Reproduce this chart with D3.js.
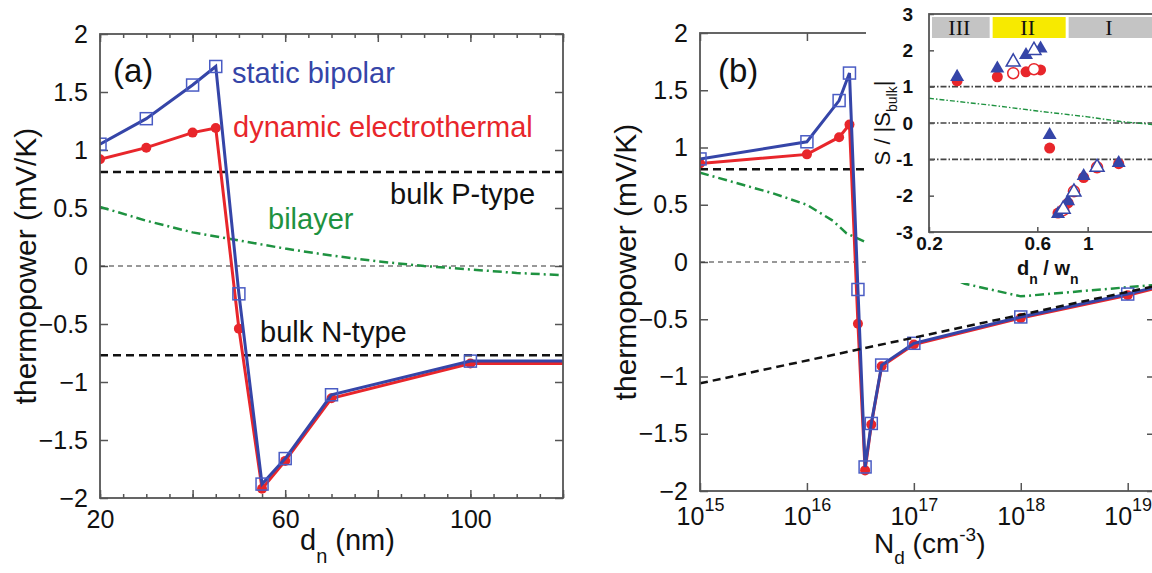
<!DOCTYPE html>
<html>
<head>
<meta charset="utf-8">
<script src="https://cdn.jsdelivr.net/npm/d3@7"></script>
<style>
  body { margin: 0; background: #fff; }
  svg { font-family: "Liberation Sans", Arial, sans-serif; }
  .axis path { display: none; }
  .axis line { stroke: #555; stroke-width: 1.5; }
  .axis text { fill: #111; font-size: 25px; font-family: "Liberation Sans", Arial, sans-serif; }
  .inset text { font-size: 20px; font-weight: bold; }
</style>
</head>
<body>
<div id="chart"></div>
<script>
// ---- panel (a): thermopower vs d_n ----
const dnA = [20, 30, 40, 45, 50, 55, 60, 70, 100];
const staticA = [1.05, 1.27, 1.56, 1.72, -0.24, -1.88, -1.66, -1.11, -0.82];
const dynamicA = [0.92, 1.02, 1.15, 1.19, -0.54, -1.92, -1.68, -1.14, -0.84];
const bilayerDnA = [20, 30, 40, 50, 60, 70, 80, 90, 100, 110, 120];
const bilayerA = [0.51, 0.39, 0.29, 0.22, 0.15, 0.09, 0.04, 0.0, -0.03, -0.06, -0.08];
const bulkPA = 0.81;
const bulkNA = -0.77;

// ---- panel (b): thermopower vs N_d ----
const ndB = [1e15, 1e16, 2e16, 2.5e16, 3e16, 3.5e16, 4e16, 5e16, 1e17, 1e18, 1e19];
const staticB = [0.9, 1.05, 1.41, 1.65, -0.24, -1.79, -1.41, -0.9, -0.71, -0.48, -0.28];
const dynamicB = [0.86, 0.94, 1.09, 1.2, -0.54, -1.82, -1.42, -0.91, -0.72, -0.49, -0.29];
const ndEdgeB = 1.8e19;           // line runs on to the frame edge
const staticEdgeB = -0.22;
const dynamicEdgeB = -0.23;
const bilayerNdB = [1e15, 4.8e15, 1e16, 1.75e16, 2.35e16, 3.6e16, 3e17, 1e18, 1e19, 1.8e19];
const bilayerB = [0.78, 0.6, 0.5, 0.36, 0.25, 0.17, -0.19, -0.3, -0.22, -0.2];
const bulkPB = 0.81;
const bulkNNdB = [1e15, 1.8e19];
const bulkNB = [-1.06, -0.21];
const decadesB = [1e15, 1e16, 1e17, 1e18, 1e19];

// ---- inset: S/|S_bulk| vs d_n/w_n ----
const insetFilledX = [0.266, 0.40, 0.535, 0.62, 0.68, 0.74, 0.82, 0.96, 1.37];
const insetFilledStatic = [1.27, 1.5, 1.87, 2.05, -0.33, -2.5, -2.15, -1.46, -1.1];
const insetFilledDynamic = [1.16, 1.27, 1.41, 1.46, -0.69, -2.48, -2.2, -1.5, -1.12];
const insetOpenX = [0.47, 0.58, 0.78, 0.87, 1.10];
const insetOpenStatic = [1.68, 2.0, -2.37, -1.9, -1.22];
const insetOpenDynamic = [1.37, 1.48, -2.4, -1.88, -1.22];
const insetBiX = [0.2, 0.4, 0.6, 1.0, 1.4, 2.0];
const insetBi = [0.68, 0.47, 0.33, 0.17, 0.04, -0.05];
const insetRefLines = [1, 0, -1];
const bandEdges = [0.2, 0.37, 0.8, 2];
const bandLabels = ["III", "II", "I"];

const width = 1152, height = 573;
const blue = "#3545a8", blueMk = "#4a5cc4", red = "#e8262b", green = "#1e9240", frame = "#555";

const svg = d3.select("#chart").append("svg")
    .attr("width", width)
    .attr("height", height);

const defs = svg.append("defs");

// ============ PANEL A ============
const xA = d3.scaleLinear().domain([20, 120]).range([100, 563]);
const yA = d3.scaleLinear().domain([-2, 2]).range([498, 34]);

defs.append("clipPath").attr("id", "clipA").append("rect")
    .attr("x", xA(20)).attr("y", yA(2))
    .attr("width", xA(120) - xA(20)).attr("height", yA(-2) - yA(2));

// axes
svg.append("g").attr("class", "axis")
    .attr("transform", `translate(0,${yA(-2)})`)
    .call(d3.axisBottom(xA).tickValues(d3.range(20, 121, 5)).tickSize(-4).tickFormat(""));
svg.append("g").attr("class", "axis")
    .attr("transform", `translate(0,${yA(-2)})`)
    .call(d3.axisBottom(xA).tickValues(d3.range(20, 121, 20)).tickSize(-8).tickPadding(12)
        .tickFormat(d => (d === 20 || d === 60 || d === 100) ? d : ""));
svg.append("g").attr("class", "axis")
    .attr("transform", `translate(0,${yA(2)})`)
    .call(d3.axisTop(xA).tickValues(d3.range(20, 121, 5)).tickSize(-4).tickFormat(""));
svg.append("g").attr("class", "axis")
    .attr("transform", `translate(0,${yA(2)})`)
    .call(d3.axisTop(xA).tickValues(d3.range(20, 121, 20)).tickSize(-8).tickFormat(""));
svg.append("g").attr("class", "axis")
    .attr("transform", `translate(${xA(20)},0)`)
    .call(d3.axisLeft(yA).tickValues(d3.range(-2, 2.01, 0.5)).tickSize(-8).tickPadding(12)
        .tickFormat(d3.format("")));
svg.append("g").attr("class", "axis")
    .attr("transform", `translate(${xA(120)},0)`)
    .call(d3.axisRight(yA).tickValues(d3.range(-2, 2.01, 0.5)).tickSize(-8).tickFormat(""));

const gA = svg.append("g").attr("clip-path", "url(#clipA)");

// reference lines
gA.append("line")
    .attr("x1", xA(20)).attr("x2", xA(120)).attr("y1", yA(0)).attr("y2", yA(0))
    .attr("stroke", "#333").attr("stroke-width", 1.2).attr("stroke-dasharray", "5,4");
[bulkPA, bulkNA].forEach(v => {
    gA.append("line")
        .attr("x1", xA(20)).attr("x2", xA(120)).attr("y1", yA(v)).attr("y2", yA(v))
        .attr("stroke", "#111").attr("stroke-width", 2.5).attr("stroke-dasharray", "8,5");
});

// bilayer
const lineA = d3.line().x(d => xA(d[0])).y(d => yA(d[1]));
gA.append("path")
    .datum(d3.zip(bilayerDnA, bilayerA))
    .attr("d", lineA)
    .attr("fill", "none").attr("stroke", green).attr("stroke-width", 2.5)
    .attr("stroke-dasharray", "9,4,2,4");

// dynamic electrothermal (red), runs flat to the frame edge
const redA = d3.zip(dnA, dynamicA).concat([[120, dynamicA[dynamicA.length - 1]]]);
gA.append("path").datum(redA).attr("d", lineA)
    .attr("fill", "none").attr("stroke", red).attr("stroke-width", 3);
gA.selectAll(".dotA").data(d3.zip(dnA, dynamicA)).enter().append("circle")
    .attr("cx", d => xA(d[0])).attr("cy", d => yA(d[1])).attr("r", 5)
    .attr("fill", red);

// static bipolar (blue)
const blueA = d3.zip(dnA, staticA).concat([[120, staticA[staticA.length - 1]]]);
gA.append("path").datum(blueA).attr("d", lineA)
    .attr("fill", "none").attr("stroke", blue).attr("stroke-width", 3);
gA.selectAll(".sqA").data(d3.zip(dnA, staticA)).enter().append("rect")
    .attr("x", d => xA(d[0]) - 6).attr("y", d => yA(d[1]) - 6)
    .attr("width", 12).attr("height", 12)
    .attr("fill", "none").attr("stroke", blueMk).attr("stroke-width", 1.5);

// frame
svg.append("rect")
    .attr("x", xA(20)).attr("y", yA(2))
    .attr("width", xA(120) - xA(20)).attr("height", yA(-2) - yA(2))
    .attr("fill", "none").attr("stroke", frame).attr("stroke-width", 1.8);

// annotations
svg.append("text").attr("x", 113).attr("y", 82).attr("font-size", 33).attr("fill", "#111").text("(a)");
svg.append("text").attr("x", 232).attr("y", 83).attr("font-size", 29).attr("fill", blue).text("static bipolar");
svg.append("text").attr("x", 233).attr("y", 137).attr("font-size", 29).attr("fill", red).text("dynamic electrothermal");
svg.append("text").attr("x", 390).attr("y", 204).attr("font-size", 29).attr("fill", "#111").text("bulk P-type");
svg.append("text").attr("x", 268).attr("y", 229).attr("font-size", 29).attr("fill", green).text("bilayer");
svg.append("text").attr("x", 260).attr("y", 342).attr("font-size", 29).attr("fill", "#111").text("bulk N-type");

svg.append("text")
    .attr("transform", "translate(36,266) rotate(-90)")
    .attr("text-anchor", "middle").attr("font-size", 30).attr("fill", "#111")
    .text("thermopower (mV/K)");

const xtA = svg.append("text").attr("x", 300).attr("y", 550).attr("font-size", 29).attr("fill", "#111");
xtA.append("tspan").text("d");
xtA.append("tspan").attr("font-size", 20).attr("dy", 13).text("n");
xtA.append("tspan").attr("dy", -13).text(" (nm)");

// ============ PANEL B ============
const xB = d3.scaleLog().domain([1e15, ndEdgeB]).range([700, 1155]);
const yB = d3.scaleLinear().domain([-2, 2]).range([491, 33]);

defs.append("clipPath").attr("id", "clipB").append("rect")
    .attr("x", xB(1e15)).attr("y", yB(2))
    .attr("width", xB(ndEdgeB) - xB(1e15)).attr("height", yB(-2) - yB(2));

const gxB = svg.append("g").attr("class", "axis")
    .attr("transform", `translate(0,${yB(-2)})`)
    .call(d3.axisBottom(xB).tickValues(decadesB).tickSize(-8).tickPadding(16));
gxB.selectAll(".tick text").text(null).each(function(d) {
    const t = d3.select(this);
    t.append("tspan").text("10");
    t.append("tspan").attr("font-size", 18).attr("dy", "-0.75em").text(Math.round(Math.log10(d)));
});
svg.append("g").attr("class", "axis")
    .attr("transform", `translate(0,${yB(2)})`)
    .call(d3.axisTop(xB).tickValues(decadesB).tickSize(-8).tickFormat(""));
svg.append("g").attr("class", "axis")
    .attr("transform", `translate(${xB(1e15)},0)`)
    .call(d3.axisLeft(yB).tickValues(d3.range(-2, 2.01, 0.5)).tickSize(-8).tickPadding(12)
        .tickFormat(d3.format("")));
svg.append("g").attr("class", "axis")
    .attr("transform", `translate(${xB(ndEdgeB)},0)`)
    .call(d3.axisRight(yB).tickValues(d3.range(-2, 2.01, 0.5)).tickSize(-8).tickFormat(""));

const gB = svg.append("g").attr("clip-path", "url(#clipB)");
const lineB = d3.line().x(d => xB(d[0])).y(d => yB(d[1]));

gB.append("line")
    .attr("x1", xB(1e15)).attr("x2", xB(ndEdgeB)).attr("y1", yB(0)).attr("y2", yB(0))
    .attr("stroke", "#333").attr("stroke-width", 1.2).attr("stroke-dasharray", "5,4");
gB.append("line")
    .attr("x1", xB(1e15)).attr("x2", xB(ndEdgeB)).attr("y1", yB(bulkPB)).attr("y2", yB(bulkPB))
    .attr("stroke", "#111").attr("stroke-width", 2.5).attr("stroke-dasharray", "8,5");

gB.append("path").datum(d3.zip(bilayerNdB, bilayerB)).attr("d", lineB)
    .attr("fill", "none").attr("stroke", green).attr("stroke-width", 2.5)
    .attr("stroke-dasharray", "9,4,2,4");

const redB = d3.zip(ndB, dynamicB).concat([[ndEdgeB, dynamicEdgeB]]);
gB.append("path").datum(redB).attr("d", lineB)
    .attr("fill", "none").attr("stroke", red).attr("stroke-width", 3);
gB.selectAll(".dotB").data(d3.zip(ndB, dynamicB)).enter().append("circle")
    .attr("cx", d => xB(d[0])).attr("cy", d => yB(d[1])).attr("r", 5)
    .attr("fill", red);

const blueB = d3.zip(ndB, staticB).concat([[ndEdgeB, staticEdgeB]]);
gB.append("path").datum(blueB).attr("d", lineB)
    .attr("fill", "none").attr("stroke", blue).attr("stroke-width", 3);
gB.selectAll(".sqB").data(d3.zip(ndB, staticB)).enter().append("rect")
    .attr("x", d => xB(d[0]) - 6).attr("y", d => yB(d[1]) - 6)
    .attr("width", 12).attr("height", 12)
    .attr("fill", "none").attr("stroke", blueMk).attr("stroke-width", 1.5);

gB.append("path").datum(d3.zip(bulkNNdB, bulkNB)).attr("d", lineB)
    .attr("fill", "none").attr("stroke", "#111").attr("stroke-width", 2.5)
    .attr("stroke-dasharray", "8,5");

svg.append("rect")
    .attr("x", xB(1e15)).attr("y", yB(2))
    .attr("width", xB(ndEdgeB) - xB(1e15)).attr("height", yB(-2) - yB(2))
    .attr("fill", "none").attr("stroke", frame).attr("stroke-width", 1.8);

svg.append("text").attr("x", 718).attr("y", 82).attr("font-size", 33).attr("fill", "#111").text("(b)");

svg.append("text")
    .attr("transform", "translate(636,262) rotate(-90)")
    .attr("text-anchor", "middle").attr("font-size", 30).attr("fill", "#111")
    .text("thermopower (mV/K)");

const xtB = svg.append("text").attr("x", 874).attr("y", 553).attr("font-size", 28).attr("fill", "#111");
xtB.append("tspan").text("N");
xtB.append("tspan").attr("font-size", 19).attr("dy", 11).text("d");
xtB.append("tspan").attr("dy", -11).text(" (cm");
xtB.append("tspan").attr("font-size", 19).attr("dy", -12).text("-3");
xtB.append("tspan").attr("dy", 12).text(")");

// ============ INSET ============
const xI = d3.scaleLog().domain([0.2, 2]).range([929, 1156]);
const yI = d3.scaleLinear().domain([-3, 3]).range([232, 14]);

// white backing over panel (b)
svg.append("rect").attr("x", 866).attr("y", 0).attr("width", width - 866).attr("height", 283)
    .attr("fill", "#fff");

const inset = svg.append("g").attr("class", "inset");

// region bands
inset.selectAll(".band").data(bandLabels).enter().append("rect")
    .attr("x", (d, i) => xI(bandEdges[i]) + 3)
    .attr("width", (d, i) => xI(bandEdges[i + 1]) - xI(bandEdges[i]) - 3)
    .attr("y", yI(3) + 3).attr("height", 21)
    .attr("fill", (d, i) => i === 1 ? "#f7ea00" : "#c4c4c4");
inset.selectAll(".bandLabel").data(bandLabels).enter().append("text")
    .attr("x", (d, i) => (xI(bandEdges[i]) + Math.min(xI(bandEdges[i + 1]), width)) / 2)
    .attr("y", yI(3) + 21)
    .attr("text-anchor", "middle")
    .style("font-family", "'Liberation Serif', 'Times New Roman', serif")
    .style("font-weight", "normal").style("font-size", "22px")
    .attr("fill", "#111")
    .text(d => d);

inset.selectAll(".ref").data(insetRefLines).enter().append("line")
    .attr("x1", xI(0.2)).attr("x2", xI(2)).attr("y1", d => yI(d)).attr("y2", d => yI(d))
    .attr("stroke", "#444").attr("stroke-width", 1.6).attr("stroke-dasharray", "6,2,1.5,2");

inset.append("path").datum(d3.zip(insetBiX, insetBi))
    .attr("d", d3.line().x(d => xI(d[0])).y(d => yI(d[1])))
    .attr("fill", "none").attr("stroke", green).attr("stroke-width", 1.4)
    .attr("stroke-dasharray", "5,2,1.5,2");

// axes
inset.append("g").attr("class", "axis")
    .attr("transform", `translate(${xI(0.2)},0)`)
    .call(d3.axisLeft(yI).tickValues(d3.range(-3, 4, 1)).tickSize(-5).tickPadding(16)
        .tickFormat(d => d));
inset.append("g").attr("class", "axis")
    .attr("transform", `translate(0,${yI(-3)})`)
    .call(d3.axisBottom(xI).tickValues([0.2, 0.6, 1]).tickSize(-5).tickPadding(5)
        .tickFormat(d => d));
inset.selectAll(".axis text").style("font-size", "19px").style("font-weight", "bold");

// markers: red circles under blue triangles
inset.selectAll(".rf").data(d3.zip(insetFilledX, insetFilledDynamic)).enter().append("circle")
    .attr("cx", d => xI(d[0])).attr("cy", d => yI(d[1])).attr("r", 5.5).attr("fill", red);
inset.selectAll(".ro").data(d3.zip(insetOpenX, insetOpenDynamic)).enter().append("circle")
    .attr("cx", d => xI(d[0])).attr("cy", d => yI(d[1])).attr("r", 5.5)
    .attr("fill", "#fff").attr("stroke", red).attr("stroke-width", 1.5);
const tri = d3.symbol().type(d3.symbolTriangle).size(85);
inset.selectAll(".bf").data(d3.zip(insetFilledX, insetFilledStatic)).enter().append("path")
    .attr("d", tri)
    .attr("transform", d => `translate(${xI(d[0])},${yI(d[1])})`)
    .attr("fill", blue);
inset.selectAll(".bo").data(d3.zip(insetOpenX, insetOpenStatic)).enter().append("path")
    .attr("d", tri)
    .attr("transform", d => `translate(${xI(d[0])},${yI(d[1])})`)
    .attr("fill", "#fff").attr("stroke", blue).attr("stroke-width", 1.5);

inset.append("rect")
    .attr("x", xI(0.2)).attr("y", yI(3))
    .attr("width", xI(2) - xI(0.2)).attr("height", yI(-3) - yI(3))
    .attr("fill", "none").attr("stroke", frame).attr("stroke-width", 1.8);

const ytI = inset.append("text")
    .attr("transform", `translate(890,${yI(0)}) rotate(-90)`)
    .attr("text-anchor", "middle")
    .style("font-size", "22px").style("font-weight", "normal").attr("fill", "#111");
ytI.append("tspan").text("S / |S");
ytI.append("tspan").style("font-size", "14px").attr("dy", 7).text("bulk");
ytI.append("tspan").attr("dy", -7).text("|");

const xtI = inset.append("text").attr("x", 1017).attr("y", 275)
    .style("font-size", "20px").attr("fill", "#111");
xtI.append("tspan").text("d");
xtI.append("tspan").style("font-size", "14px").attr("dy", 9).text("n");
xtI.append("tspan").attr("dy", -9).text(" / w");
xtI.append("tspan").style("font-size", "14px").attr("dy", 9).text("n");
</script>
</body>
</html>
